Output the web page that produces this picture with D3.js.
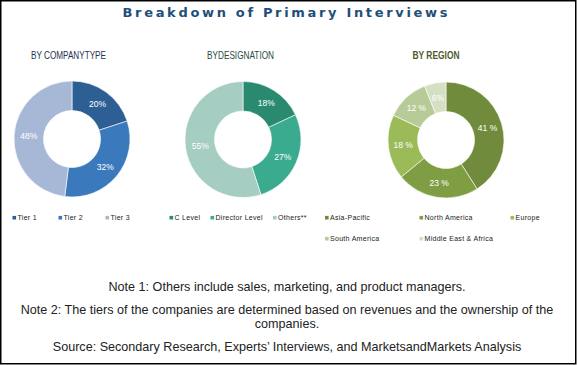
<!DOCTYPE html>
<html><head><meta charset="utf-8">
<script src="https://cdn.jsdelivr.net/npm/d3@7"></script>
<style>body{margin:0;background:#fff}svg{display:block}</style>
</head><body><svg id="c" width="577" height="365"></svg>
<script>
const companyTypes = ["Tier 1","Tier 2","Tier 3"];
const companyValues = [20,32,48];
const companyLabels = ["20%","32%","48%"];
const companyColors = ["#2d5f94","#3b79bd","#a7b8d6"];
const designations = ["C Level","Director Level","Others**"];
const designationValues = [18,27,55];
const designationLabels = ["18%","27%","55%"];
const designationColors = ["#2a8a70","#3aab8f","#a6cdc1"];
const regions = ["Asia-Pacific","North America","Europe","South America","Middle East & Africa"];
const regionValues = [41,23,18,12,6];
const regionLabels = ["41 %","23 %","18 %","12 %","6%"];
const regionColors = ["#6f8b3b","#7f9e43","#9bbb59","#b6cb98","#d4dfc3"];
const notes = ["Note 1: Others include sales, marketing, and product managers.",
 "Note 2: The tiers of the companies are determined based on revenues and the ownership of the",
 "companies.",
 "Source: Secondary Research, Experts’ Interviews, and MarketsandMarkets Analysis"];

const svg = d3.select("#c");
svg.append("rect").attr("x",0.75).attr("y",0.75).attr("width",575).attr("height",363)
  .attr("fill","#fff").attr("stroke","#000").attr("stroke-width",1.5);

svg.append("text").attr("x",286).attr("y",17).attr("text-anchor","middle")
  .attr("font-family","DejaVu Sans").attr("font-weight","bold").attr("font-size",13)
  .attr("letter-spacing",2).attr("textLength",327).attr("lengthAdjust","spacing")
  .attr("fill","#1f4e79").text("Breakdown of Primary Interviews");

const r1 = 217.7, r2 = 238.7;
const charts = [
 {title:"BY COMPANYTYPE", tx:68.5, tw:75, bold:false, tcol:"#1f3350", cx:72, cy:139, names:companyTypes, vals:companyValues, labels:companyLabels, cols:companyColors,
  legend:[[12.5,r1],[58.5,r1],[105.5,r1]]},
 {title:"BYDESIGNATION", tx:240.5, tw:67, bold:false, tcol:"#2b4a40", cx:243, cy:139.5, names:designations, vals:designationValues, labels:designationLabels, cols:designationColors,
  legend:[[169.5,r1],[210.5,r1],[273,r1]]},
 {title:"BY REGION", tx:436, tw:47, bold:true, tcol:"#4e5b2c", cx:446, cy:140, names:regions, vals:regionValues, labels:regionLabels, cols:regionColors,
  legend:[[325,r1],[419.5,r1],[510.5,r1],[325,r2],[419.5,r2]]}
];

const pie = d3.pie().sort(null).value(d=>d);
const arc = d3.arc().innerRadius(28.5).outerRadius(58);

charts.forEach(c=>{
  svg.append("text").attr("x",c.tx).attr("y",59).attr("text-anchor","middle")
    .attr("font-family","Liberation Sans, Arial, sans-serif")
    .attr("font-weight",c.bold?"bold":"normal").attr("font-size",c.bold?10:10.5)
    .attr("textLength",c.tw).attr("lengthAdjust","spacingAndGlyphs")
    .attr("fill",c.tcol).text(c.title);
  const g = svg.append("g").attr("transform",`translate(${c.cx},${c.cy})`);
  const arcs = pie(c.vals);
  g.selectAll("path").data(arcs).join("path").attr("d",arc)
    .attr("fill",(d,i)=>c.cols[i]).attr("stroke","#fff").attr("stroke-width",0.6);
  g.selectAll("text").data(arcs).join("text")
    .attr("transform",d=>`translate(${arc.centroid(d)})`)
    .attr("text-anchor","middle").attr("dy","0.35em")
    .attr("font-family","Liberation Sans, Arial, sans-serif").attr("font-size",8.5)
    .attr("fill","#fff").text((d,i)=>c.labels[i]);
  c.names.forEach((n,i)=>{
    const [lx,ly]=c.legend[i];
    svg.append("rect").attr("x",lx).attr("y",ly-1.8).attr("width",3.6).attr("height",3.6).attr("fill",c.cols[i]);
    svg.append("text").attr("x",lx+5).attr("y",ly+2.5)
      .attr("font-family","Liberation Sans, Arial, sans-serif").attr("font-size",7)
      .attr("letter-spacing",0.3).attr("fill","#222").text(n);
  });
});

const ny=[291,314,328,351];
notes.forEach((t,i)=>{
  svg.append("text").attr("x",287).attr("y",ny[i]).attr("text-anchor","middle")
    .attr("font-family","Liberation Sans, Arial, sans-serif").attr("font-size",12.6)
    .attr("fill","#222").text(t);
});
</script></body></html>
